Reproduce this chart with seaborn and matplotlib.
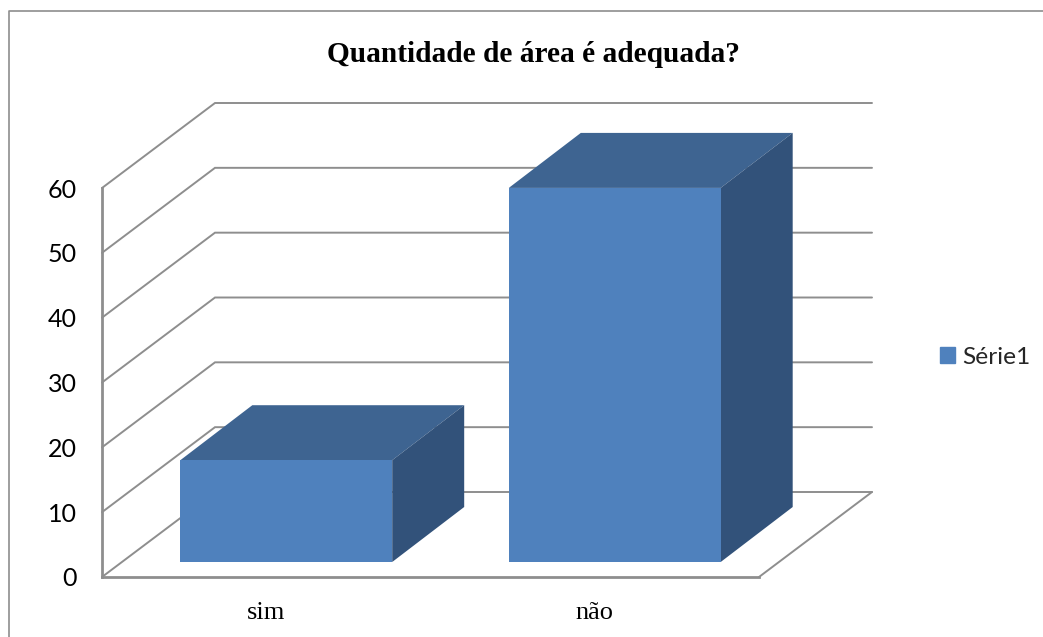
import matplotlib
matplotlib.use("Agg")
import matplotlib.pyplot as plt
import matplotlib.transforms as mtrans
from matplotlib.lines import Line2D
from matplotlib.patches import Polygon, Patch
import pandas as pd
import seaborn as sns

categories = ["sim", "não"]
values = [15.7, 57.7]
y_ticks = [0, 10, 20, 30, 40, 50, 60]
series_name = "Série1"
title = "Quantidade de área é adequada?"

FRONT, TOP, SIDE = "#4F81BD", "#3E6491", "#32527A"
GRID = "#8E8E8E"
W, H = 1043, 637
L, R, T, B = 102, 759, 188, 577  # front plane in pixels

sns.set_theme(style="white")
fig = plt.figure(figsize=(W / 100, H / 100), dpi=100, facecolor="white")
ax = fig.add_axes([L / W, 1 - B / H, (R - L) / W, (B - T) / H])

df = pd.DataFrame({"cat": categories, "val": values})
sns.barplot(data=df, x="cat", y="val", color=FRONT, saturation=1, width=0.645,
            ax=ax, zorder=5, linewidth=0)
ax.set_xlim(-0.5, 1.5)
ax.set_ylim(0, 60)

px_x = 2 / (R - L)
px_y = 60 / (B - T)
# wall / floor depth and bar depth, in data units
wall_dx, wall_dy = 113 * px_x, 85 * px_y
bar_dx, bar_dy = 72 * px_x, 55 * px_y
shift_x, shift_y = 20 * px_x, 15 * px_y

# walls and floor
for v in y_ticks:
    ax.plot([-0.5, -0.5 + wall_dx, 1.5 + wall_dx],
            [v, v + wall_dy, v + wall_dy],
            color=GRID, lw=1.4, clip_on=False, zorder=1, solid_joinstyle="miter")
ax.plot([1.5, 1.5 + wall_dx], [0, wall_dy], color=GRID, lw=1.4, clip_on=False, zorder=1)

# 3D bars built from the seaborn patches
for p in ax.patches:
    x0, x1, h = p.get_x() + shift_x, p.get_x() + p.get_width() + shift_x, p.get_height() + shift_y
    base = shift_y
    p.set_transform(mtrans.Affine2D().translate(shift_x, shift_y) + ax.transData)
    p.set_clip_on(False)
    ax.add_patch(Polygon([(x0, h), (x1, h), (x1 + bar_dx, h + bar_dy), (x0 + bar_dx, h + bar_dy)],
                         closed=True, fc=TOP, ec="none", zorder=4, clip_on=False))
    ax.add_patch(Polygon([(x1, base), (x1, h), (x1 + bar_dx, h + bar_dy), (x1 + bar_dx, base + bar_dy)],
                         closed=True, fc=SIDE, ec="none", zorder=4, clip_on=False))

ax.set_xlabel("")
ax.set_ylabel("")
ax.set_yticks(y_ticks)
ax.tick_params(axis="both", length=0)
ax.tick_params(axis="y", pad=18, labelsize=18, labelcolor="black")
ax.tick_params(axis="x", pad=18, labelsize=19, labelcolor="black")
for t in ax.get_yticklabels():
    t.set_family("Lato")
for t in ax.get_xticklabels():
    t.set_family("Liberation Serif")

sns.despine(ax=ax)
for s in ("left", "bottom"):
    ax.spines[s].set_color(GRID)
    ax.spines[s].set_linewidth(2)
ax.patch.set_alpha(0)

fig.text(533 / W, 1 - 54 / H, title, ha="center", va="center",
         family="Liberation Serif", weight="bold", fontsize=21.2, color="black")

fig.legend(handles=[Patch(color=FRONT, label=series_name)], loc="center left",
           bbox_to_anchor=(940 / W, 1 - 357 / H), frameon=False, prop={"family": "Lato", "size": 17.6},
           handlelength=0.61, handleheight=0.61, handletextpad=0.28, borderpad=0, borderaxespad=0)

# chart frame
fig.add_artist(Line2D([9 / W, 9 / W, 1], [0, 1 - 11 / H, 1 - 11 / H], color=GRID, lw=1.2))

fig.savefig("out.png", dpi=100)
